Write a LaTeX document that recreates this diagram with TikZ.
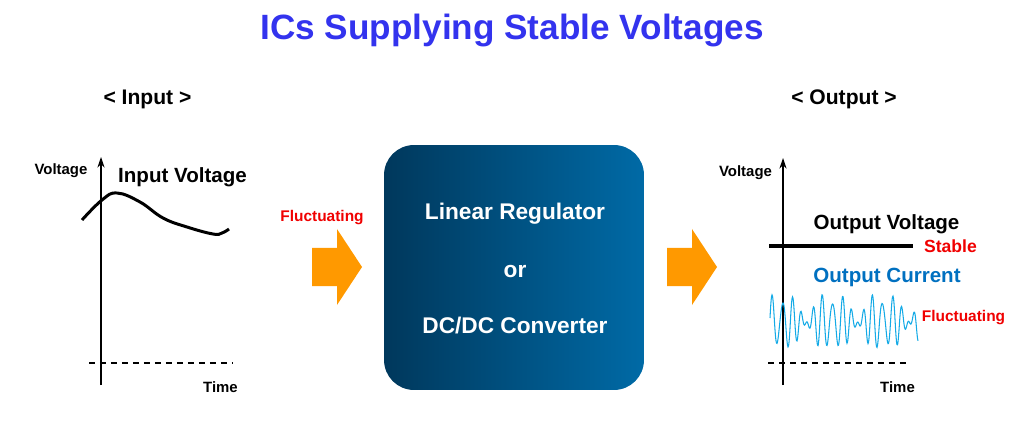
\documentclass[tikz,border=0pt]{standalone}
\usepackage{fontspec}
\setmainfont{Liberation Sans}
\usetikzlibrary{positioning,arrows.meta}
\definecolor{titleblue}{RGB}{51,51,238}
\definecolor{boxdark}{RGB}{0,56,92}
\definecolor{boxlight}{RGB}{0,106,166}
\definecolor{arroworange}{RGB}{255,153,0}
\definecolor{labelred}{RGB}{240,0,0}
\definecolor{currentblue}{RGB}{0,112,192}
\definecolor{noiseblue}{RGB}{20,170,230}

\begin{document}
\begin{tikzpicture}[x=0.02cm, y=-0.02cm,
  txt/.style={inner sep=0pt, anchor=base, font=\bfseries},
  axis/.style={-{Stealth[length=6pt,width=4pt]}, line width=0.6pt},
  zero/.style={dashed, dash pattern=on 0.12cm off 0.1cm, line width=0.6pt},
  regbox/.style={rounded corners=0.6cm, minimum width=5.2cm, minimum height=4.9cm,
    left color=boxdark, right color=boxlight, draw=none}]
  \useasboundingbox (0,0) rectangle (1024,422);

  % Title and headings
  \node[txt, font=\bfseries\fontsize{20}{24}\selectfont, titleblue] (title) at (512,40) {ICs Supplying Stable Voltages};
  \node[txt, font=\bfseries\fontsize{12}{14}\selectfont] (inhead) at (147.5,104.6) {< Input >};
  \node[txt, font=\bfseries\fontsize{12}{14}\selectfont] (outhead) at (844,104.6) {< Output >};

  % Input graph
  \coordinate (lbot) at (101,385);
  \coordinate (ltop) at (101,157);
  \coordinate (ldl) at (89,363);
  \coordinate (ldr) at (233,363);
  \draw[axis] (lbot) -- (ltop);
  \draw[zero] (ldl) -- (ldr);
  \node[txt, font=\bfseries\fontsize{8.5}{10}\selectfont] (lvolt) at (61,174.4) {Voltage};
  \node[txt, font=\bfseries\fontsize{8.5}{10}\selectfont] (ltime) at (220.5,392.4) {Time};
  \node[txt, font=\bfseries\fontsize{11.7}{14}\selectfont] (involt) at (182.5,182.4) {Input Voltage};
  \draw[line width=1.7pt] plot[smooth, tension=0.7] coordinates {(82,220) (102,200) (117,193) (140,202) (163,218) (187,227) (213,234) (222,233) (229,229)};

  % Arrow into the regulator
  \node[txt, font=\bfseries\fontsize{8.8}{10}\selectfont, labelred] (influct) at (322,221.6) {Fluctuating};
  \coordinate (inarr) at (312,267);
  \fill[arroworange] (inarr) ++(0,-19) -- ++(25,0) -- ++(0,-19) -- ++(25,38) -- ++(-25,38) -- ++(0,-19) -- ++(-25,0) -- cycle;

  % Regulator block
  \node[regbox] (reg) at (514,267.5) {};
  \node[txt, font=\bfseries\fontsize{12.9}{15}\selectfont, white] (reg1) at (515,220) {Linear Regulator};
  \node[txt, font=\bfseries\fontsize{12.9}{15}\selectfont, white] (reg2) at (515,277) {or};
  \node[txt, font=\bfseries\fontsize{12.9}{15}\selectfont, white] (reg3) at (515,333) {DC/DC Converter};

  % Arrow out of the regulator
  \coordinate (outarr) at (667,267);
  \fill[arroworange] (outarr) ++(0,-19) -- ++(25,0) -- ++(0,-19) -- ++(25,38) -- ++(-25,38) -- ++(0,-19) -- ++(-25,0) -- cycle;

  % Output graph
  \coordinate (rbot) at (783,385);
  \coordinate (rtop) at (783,158);
  \coordinate (rdl) at (768,363);
  \coordinate (rdr) at (910,363);
  \draw[axis] (rbot) -- (rtop);
  \draw[zero] (rdl) -- (rdr);
  \node[txt, font=\bfseries\fontsize{8.5}{10}\selectfont] (rvolt) at (745.5,176.4) {Voltage};
  \node[txt, font=\bfseries\fontsize{8.5}{10}\selectfont] (rtime) at (897.5,392.4) {Time};
  \node[txt, font=\bfseries\fontsize{11.7}{14}\selectfont] (outvolt) at (886.5,229.4) {Output Voltage};
  \coordinate (sl) at (769,246);
  \coordinate (sr) at (913,246);
  \draw[line width=1.8pt] (sl) -- (sr);
  \node[txt, font=\bfseries\fontsize{10}{12}\selectfont, labelred] (stable) at (950.5,252.3) {Stable};
  \node[txt, font=\bfseries\fontsize{11.7}{14}\selectfont, currentblue] (outcur) at (887,282.4) {Output Current};
  \draw[noiseblue, line width=0.6pt] plot[smooth, domain=0:148, samples=297] ({770+\x}, {322 - (17+9*sin(7*\x+20))*sin(36*\x) - 8*sin(50*\x+30)});
  \node[txt, font=\bfseries\fontsize{8.8}{10}\selectfont, labelred] (outfluct) at (963.5,321.6) {Fluctuating};
\end{tikzpicture}
\end{document}
